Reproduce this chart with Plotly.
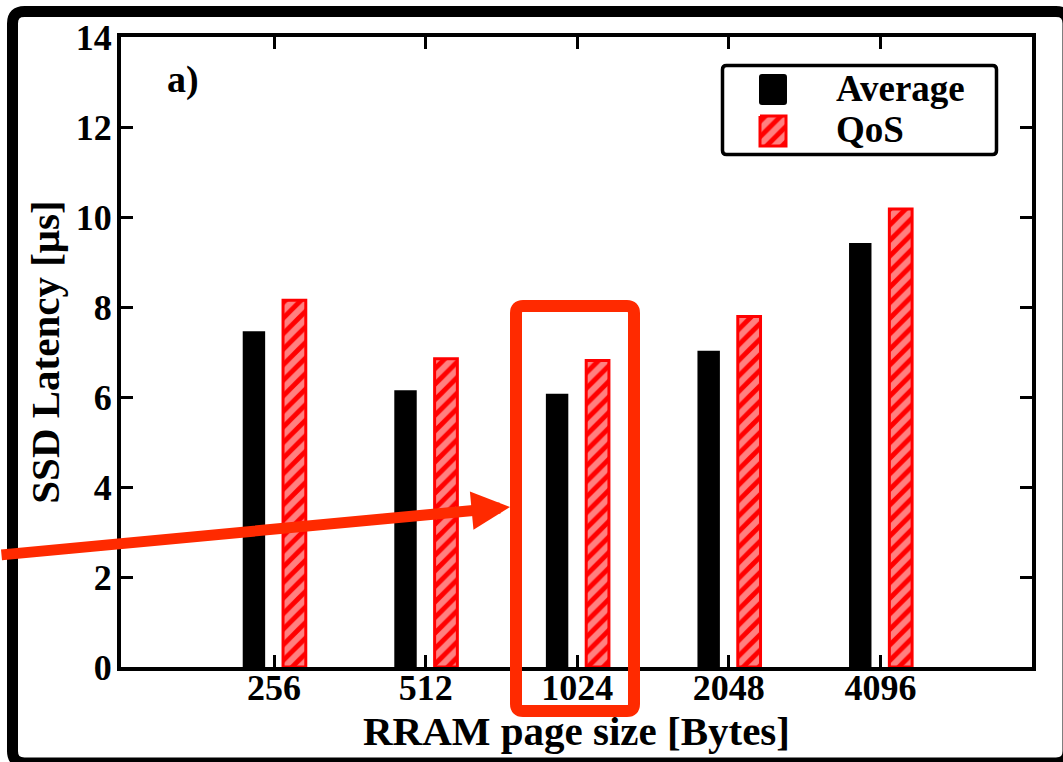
import plotly.graph_objects as go

# ---- data ----
page_sizes = ["256", "512", "1024", "2048", "4096"]
average_us = [7.46, 6.15, 6.07, 7.03, 9.42]
qos_us = [8.15, 6.85, 6.81, 7.79, 10.18]
y_ticks = [0, 2, 4, 6, 8, 10, 12, 14]

# ---- geometry / style ----
W, H = 1063, 762
ML, MR, MT, MB = 121, 31, 37, 95
PW, PH = W - ML - MR, H - MT - MB
FONT = "Liberation Serif"
RED = "#ff2a00"
BAR_RED = "#ff0000"


def px(x):
    """pixel column -> paper x"""
    return (x - ML) / PW


def py(y):
    """pixel row -> paper y"""
    return (H - MB - y) / PH


def rounded_rect(x0, y0, x1, y1, r):
    """SVG path (paper coords) for a rectangle with rounded corners, given in pixels."""
    p = lambda x, y: f"{px(x):.5f},{py(y):.5f}"
    return (
        f"M{p(x0 + r, y0)} L{p(x1 - r, y0)} Q{p(x1, y0)} {p(x1, y0 + r)} "
        f"L{p(x1, y1 - r)} Q{p(x1, y1)} {p(x1 - r, y1)} "
        f"L{p(x0 + r, y1)} Q{p(x0, y1)} {p(x0, y1 - r)} "
        f"L{p(x0, y0 + r)} Q{p(x0, y0)} {p(x0 + r, y0)} Z"
    )


idx = list(range(len(page_sizes)))
hatch = dict(shape="/", fgcolor="white", bgcolor=BAR_RED, size=11, solidity=0.55)

fig = go.Figure()
fig.add_trace(go.Bar(
    x=idx, y=average_us, name="Average",
    width=0.148, offset=-0.207,
    marker=dict(color="black", line=dict(width=0)),
    showlegend=False,
))
fig.add_trace(go.Bar(
    x=idx, y=qos_us, name="QoS",
    width=0.15, offset=0.059,
    marker=dict(color=BAR_RED, pattern=hatch, line=dict(color=BAR_RED, width=3)),
    showlegend=False,
))

# hatched legend swatch, drawn on a hidden overlay axis spanning the plot area
lx0, lx1, ly0, ly1 = 760, 786, 116, 146
fig.add_trace(go.Scatter(
    x=[px(lx0), px(lx1), px(lx1), px(lx0), px(lx0)],
    y=[py(ly0), py(ly0), py(ly1), py(ly1), py(ly0)],
    xaxis="x2", yaxis="y2", mode="lines", fill="toself",
    fillcolor=BAR_RED, fillpattern=hatch,
    line=dict(color=BAR_RED, width=3),
    hoverinfo="skip", showlegend=False,
))

axis_common = dict(
    showline=True, linewidth=4, linecolor="black", mirror="ticks",
    ticks="inside", ticklen=12, tickwidth=3, tickcolor="black",
    showgrid=False, zeroline=False,
    tickfont=dict(family=FONT, size=36, color="black", weight="bold"),
)

fig.update_layout(
    width=W, height=H,
    margin=dict(l=ML, r=MR, t=MT, b=MB),
    paper_bgcolor="white", plot_bgcolor="white",
    font=dict(family=FONT, size=36, color="black", weight="bold"),
    barmode="overlay",
    xaxis=dict(
        **axis_common,
        range=[-1.01, 5.0], tickmode="array", tickvals=idx, ticktext=page_sizes,
        ticklabelstandoff=-14,
        title=dict(text="RRAM page size [Bytes]", standoff=0,
                   font=dict(family=FONT, size=41, color="black", weight="bold")),
    ),
    yaxis=dict(
        **axis_common,
        range=[0, 14], tickmode="array", tickvals=y_ticks,
        ticklabelstandoff=-2,
        title=dict(text="SSD Latency [μs]", standoff=4,
                   font=dict(family=FONT, size=41, color="black", weight="bold")),
    ),
    xaxis2=dict(overlaying="x", range=[0, 1], visible=False, fixedrange=True),
    yaxis2=dict(overlaying="y", range=[0, 1], visible=False, fixedrange=True),
)

shapes = [
    # legend box (below the traces so the hatched swatch stays visible)
    dict(type="path", xref="paper", yref="paper",
         path=rounded_rect(722.5, 65.5, 996.5, 154.5, 4),
         line=dict(color="black", width=3.5), fillcolor="white", layer="below"),
    # black legend swatch
    dict(type="path", xref="paper", yref="paper",
         path=rounded_rect(759, 74, 787, 105, 3),
         line=dict(color="black", width=0), fillcolor="black", layer="above"),
    # outer frame
    dict(type="path", xref="paper", yref="paper",
         path=rounded_rect(12.5, 11.5, 1068, 763, 12),
         line=dict(color="black", width=11), layer="above"),
    # highlight box around the 1024-byte group
    dict(type="path", xref="paper", yref="paper",
         path=rounded_rect(516, 306, 634, 711, 7),
         line=dict(color=RED, width=12), layer="above"),
]
fig.update_layout(shapes=shapes)

annotations = [
    dict(text="a)", xref="paper", yref="paper", x=px(183), y=py(80),
         xanchor="center", yanchor="middle", showarrow=False, font=dict(size=38)),
    dict(text="Average", xref="paper", yref="paper", x=px(834), y=py(88),
         xanchor="left", yanchor="middle", showarrow=False, font=dict(size=37)),
    dict(text="QoS", xref="paper", yref="paper", x=px(834), y=py(129),
         xanchor="left", yanchor="middle", showarrow=False, font=dict(size=37)),
    # arrow pointing at the highlighted group
    dict(text="", xref="paper", yref="paper", x=px(510), y=py(507),
         ax=-525, ay=48, showarrow=True, arrowhead=2, arrowsize=0.7,
         arrowwidth=11, arrowcolor=RED, standoff=0),
]
fig.update_layout(annotations=annotations)

fig.write_html("out.html")
